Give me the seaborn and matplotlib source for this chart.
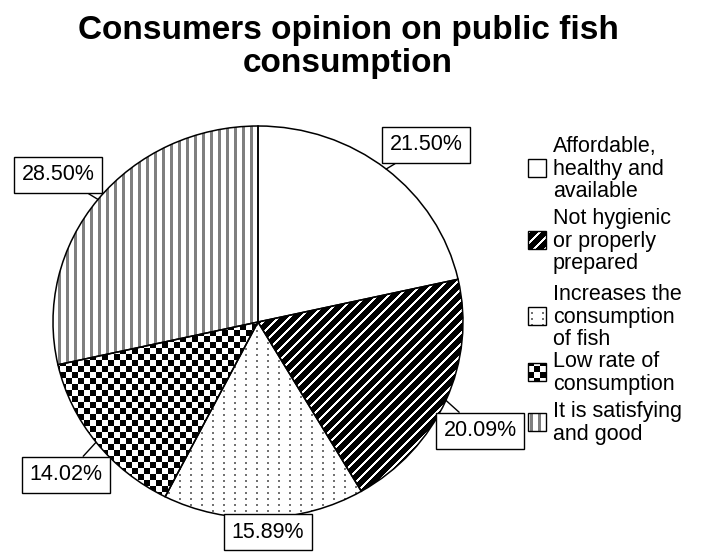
import numpy as np
import matplotlib
matplotlib.use("Agg")
import matplotlib.pyplot as plt
from matplotlib.patches import Rectangle
import seaborn as sns

# ---- data ----
title = "Consumers opinion on public fish\nconsumption"
categories = [
    "Affordable,\nhealthy and\navailable",
    "Not hygienic\nor properly\nprepared",
    "Increases the\nconsumption\nof fish",
    "Low rate of\nconsumption",
    "It is satisfying\nand good",
]
percentages = [21.50, 20.09, 15.89, 14.02, 28.50]
fills = ["plain", "diagonal", "dotted", "checker", "stripes"]

# ---- layout (pixels) ----
W, H, DPI = 701, 552, 100
CX, CY, RX, RY = 258, 322, 205, 196          # pie centre and radii
label_px = [(426, 145), (480, 431), (268, 532), (66, 475), (58, 175)]
swatch_x, swatch_size = 528, 18
swatch_cy = [168, 240, 316, 372, 422]
legend_text_x = 553

sns.set_theme(style="white")
plt.rcParams["font.family"] = ["Liberation Sans", "DejaVu Sans"]
plt.rcParams["text.color"] = "black"

fig = plt.figure(figsize=(W / DPI, H / DPI), dpi=DPI)
ax = fig.add_axes([0, 0, 1, 1])


def to_data(px, py):
    return (px - CX) / RX, (CY - py) / RY


x_lo, y_top = to_data(0, 0)
x_hi, y_bot = to_data(W, H)
extent = (x_lo, x_hi, y_bot, y_top)

cols, rows = np.meshgrid(np.arange(W), np.arange(H))


def pattern(kind):
    img = np.ones((H, W, 3))
    if kind == "diagonal":
        img[:] = 0.0
        img[(cols + rows) % 11 < 3] = 1.0
    elif kind == "dotted":
        img[((cols - 3) % 11 < 2) & (rows % 6 < 2)] = 0.45
    elif kind == "checker":
        img[((cols // 6) + (rows // 6)) % 2 == 0] = 0.0
    elif kind == "stripes":
        img[(cols - 2) % 8 < 3] = 0.5
    return img


def fill_pattern(patch, kind):
    im = ax.imshow(pattern(kind), extent=extent, origin="upper",
                   interpolation="nearest", aspect="auto", zorder=2)
    im.set_clip_path(patch)


# pie fills
wedges, _ = ax.pie(percentages, startangle=90, counterclock=False,
                   colors=["white"] * len(percentages),
                   wedgeprops=dict(linewidth=0, zorder=1))
for w, kind in zip(wedges, fills):
    fill_pattern(w, kind)

# pie outlines
outlines, _ = ax.pie(percentages, startangle=90, counterclock=False,
                     wedgeprops=dict(fill=False, edgecolor="black",
                                     linewidth=1.1, zorder=3))

# percentage callouts
for w, p, (lx, ly) in zip(wedges, percentages, label_px):
    theta = np.deg2rad((w.theta1 + w.theta2) / 2)
    ax.annotate(f"{p:.2f}%", xy=(np.cos(theta), np.sin(theta)),
                xytext=to_data(lx, ly), ha="center", va="center",
                fontsize=15.5, zorder=5,
                bbox=dict(boxstyle="square,pad=0.36", fc="white",
                          ec="black", lw=1),
                arrowprops=dict(arrowstyle="-", color="black", lw=1,
                                shrinkA=0, shrinkB=0))

# legend
for cat, kind, cy in zip(categories, fills, swatch_cy):
    x0, y0 = to_data(swatch_x, cy + swatch_size / 2)
    w_d, h_d = swatch_size / RX, swatch_size / RY
    rect = Rectangle((x0, y0), w_d, h_d, fc="white", ec="none", zorder=1)
    ax.add_patch(rect)
    fill_pattern(rect, kind)
    ax.add_patch(Rectangle((x0, y0), w_d, h_d, fill=False, ec="black",
                           lw=1, zorder=3))
    tx, ty = to_data(legend_text_x, cy + 1)
    ax.text(tx, ty, cat, ha="left", va="center", fontsize=15.5,
            linespacing=1.12)

ax.set_xlim(x_lo, x_hi)
ax.set_ylim(y_bot, y_top)
ax.set_aspect("auto")
ax.set_axis_off()

fig.text(348 / W, 1 - 15 / H, title, ha="center", va="top",
         fontsize=24, fontweight="bold", linespacing=1.08)

fig.savefig("out.png", dpi=DPI)
